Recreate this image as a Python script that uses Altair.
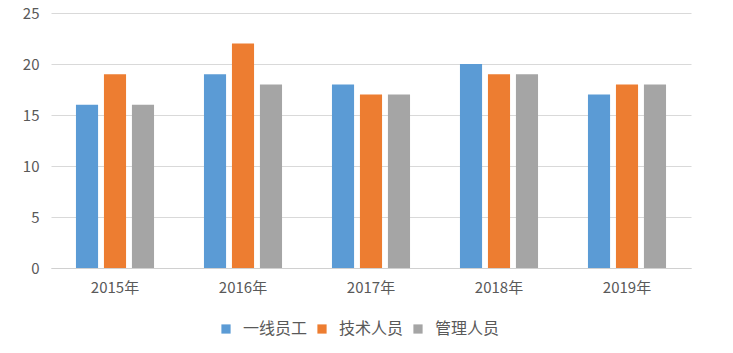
import altair as alt
import pandas as pd

years = ["2015年", "2016年", "2017年", "2018年", "2019年"]
series = ["一线员工", "技术人员", "管理人员"]
values = {
    "一线员工": [16, 19, 18, 20, 17],
    "技术人员": [19, 22, 17, 19, 18],
    "管理人员": [16, 18, 17, 19, 18],
}
colors = ["#5B9BD5", "#ED7D31", "#A5A5A5"]

rows = []
for s in series:
    for y, v in zip(years, values[s]):
        rows.append({"year": y, "series": s, "value": v})
df = pd.DataFrame(rows)

font = "Noto Sans CJK SC"

chart = alt.Chart(df).mark_bar().encode(
    x=alt.X("year:N", sort=years, title=None,
            scale=alt.Scale(paddingInner=0.39, paddingOuter=0.195),
            axis=alt.Axis(labelAngle=0, labelFontSize=15, labelColor="#595959",
                          labelFont=font, ticks=False, domainColor="#D0D0D0",
                          labelPadding=12, grid=False)),
    xOffset=alt.XOffset("series:N", sort=series,
                        scale=alt.Scale(paddingInner=0.21, paddingOuter=0)),
    y=alt.Y("value:Q", title=None,
            scale=alt.Scale(domain=[0, 25]),
            axis=alt.Axis(values=[0, 5, 10, 15, 20, 25], labelFontSize=15,
                          labelColor="#595959", labelFont=font, ticks=False,
                          domain=False, gridColor="#D9D9D9", labelPadding=12)),
    color=alt.Color("series:N", sort=series,
                    scale=alt.Scale(domain=series, range=colors),
                    legend=alt.Legend(title=None, orient="none", direction="horizontal",
                                      legendX=167, legendY=308, symbolType="square",
                                      symbolSize=85, symbolStrokeWidth=0,
                                      labelFontSize=16, labelFont=font,
                                      labelColor="#595959", columnPadding=6,
                                      symbolOffset=0, labelOffset=9)),
).properties(
    width=640, height=255,
    autosize="none",
    background="white",
    padding={"left": 51, "top": 13, "right": 42, "bottom": 85},
).configure_view(stroke=None)

chart.save("out.html", embed_options={"renderer": "svg", "actions": False})
